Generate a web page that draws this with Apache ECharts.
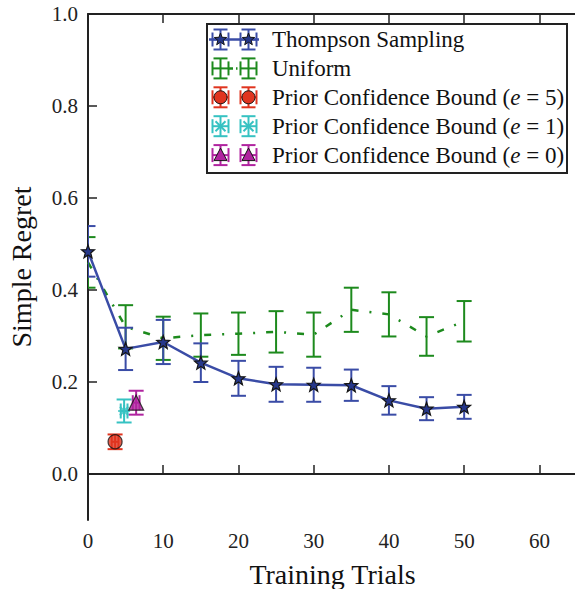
<!DOCTYPE html>
<html><head><meta charset="utf-8">
<script src="https://cdn.jsdelivr.net/npm/echarts@6/dist/echarts.min.js"></script>
<style>html,body{margin:0;padding:0;background:#fff}#c{width:575px;height:589px}</style>
</head><body><div id="c"></div>
<script>
// ---- data ----
const trials = [0, 5, 10, 15, 20, 25, 30, 35, 40, 45, 50];
const tsMean = [0.484, 0.272, 0.287, 0.242, 0.208, 0.195, 0.194, 0.193, 0.160, 0.142, 0.146];
const tsErr  = [0.055, 0.046, 0.048, 0.042, 0.038, 0.038, 0.037, 0.034, 0.031, 0.025, 0.026];
const uniMean = [0.460, 0.320, 0.295, 0.302, 0.305, 0.309, 0.303, 0.357, 0.347, 0.299, 0.332];
const uniErr  = [0.055, 0.047, 0.047, 0.047, 0.046, 0.045, 0.048, 0.048, 0.048, 0.042, 0.044];
const pcbNames = ['e = 5', 'e = 1', 'e = 0'];
const pcbX    = [3.6, 4.8, 6.4];
const pcbXErr = [0.45, 0.45, 0.45];
const pcbMean = [0.070, 0.137, 0.155];
const pcbErr  = [0.016, 0.025, 0.026];
const xTicks = [0, 10, 20, 30, 40, 50, 60];
const yTicks = [0, 0.2, 0.4, 0.6, 0.8, 1.0];
const legendLabels = ['Thompson Sampling', 'Uniform',
  'Prior Confidence Bound ({i|e} = 5)', 'Prior Confidence Bound ({i|e} = 1)', 'Prior Confidence Bound ({i|e} = 0)'];

// ---- styles ----
const C_BLUE = '#3a4ca6', C_STAR = '#26378a', C_GREEN = '#1d8a1d',
      C_RED = '#e0341f', C_CYAN = '#36c2c2', C_MAG = '#b0239f', C_EDGE = '#151515';
const FONT = 'Liberation Serif';

// star symbol geometry
function starPts(r) {
  const pts = [];
  for (let k = 0; k < 10; k++) {
    const a = -Math.PI / 2 + k * Math.PI / 5, rr = k % 2 ? r * 0.42 : r;
    pts.push([rr * Math.cos(a), rr * Math.sin(a)]);
  }
  return pts;
}
const starPath = 'path://M' + starPts(10).map(p => (p[0] + 10).toFixed(2) + ',' + (p[1] + 10).toFixed(2)).join('L') + 'Z';
const astPath = 'path://M10,0L10,20M0,10L20,10M3,3L17,17M3,17L17,3';

function makeErr(color, lw, cap) {
  return function (params, api) {
    const x = api.value(0), m = api.value(1), e = api.value(2), xe = api.value(3);
    const cs = params.coordSys, left = cs.x;
    const t = api.coord([x, m + e]), b = api.coord([x, m - e]);
    const st = { stroke: color, lineWidth: lw, fill: null };
    const ch = [
      { type: 'line', shape: { x1: t[0], y1: t[1], x2: b[0], y2: b[1] }, style: st },
      { type: 'line', shape: { x1: Math.max(left, t[0] - cap), y1: t[1], x2: t[0] + cap, y2: t[1] }, style: st },
      { type: 'line', shape: { x1: Math.max(left, b[0] - cap), y1: b[1], x2: b[0] + cap, y2: b[1] }, style: st }
    ];
    if (xe > 0) {
      const l = api.coord([x - xe, m]), r = api.coord([x + xe, m]);
      ch.push({ type: 'line', shape: { x1: l[0], y1: l[1], x2: r[0], y2: r[1] }, style: st });
      ch.push({ type: 'line', shape: { x1: l[0], y1: l[1] - cap, x2: l[0], y2: l[1] + cap }, style: st });
      ch.push({ type: 'line', shape: { x1: r[0], y1: r[1] - cap, x2: r[0], y2: r[1] + cap }, style: st });
    }
    return { type: 'group', children: ch };
  };
}

const tsErrData = trials.map((x, i) => [x, tsMean[i], tsErr[i], 0]);
const uniErrData = trials.map((x, i) => [x, uniMean[i], uniErr[i], 0]);
const pcbColors = [C_RED, C_CYAN, C_MAG];
const pcbSymbols = ['circle', astPath, 'triangle'];

const series = [
  { type: 'custom', name: 'UniformErr', renderItem: makeErr(C_GREEN, 2, 7.5), data: uniErrData, clip: true, z: 2, silent: true },
  { type: 'line', name: 'Uniform', data: trials.map((x, i) => [x, uniMean[i]]), symbol: 'none',
    lineStyle: { color: C_GREEN, width: 2.5, type: [7, 11, 2, 11] }, z: 2, clip: true },
  { type: 'custom', name: 'TSErr', renderItem: makeErr(C_BLUE, 2, 7.5), data: tsErrData, clip: true, z: 3, silent: true },
  { type: 'line', name: 'Thompson Sampling', data: trials.map((x, i) => [x, tsMean[i]]),
    symbol: starPath, symbolSize: 13, clip: true,
    itemStyle: { color: C_STAR, borderColor: C_EDGE, borderWidth: 1.2 },
    lineStyle: { color: C_BLUE, width: 2.5 }, z: 4 }
];
pcbNames.forEach((n, i) => {
  series.push({ type: 'custom', name: 'PCBErr ' + n, renderItem: makeErr(pcbColors[i], 2, 7.5),
    data: [[pcbX[i], pcbMean[i], pcbErr[i], pcbXErr[i]]], z: 5, silent: true });
  const isAst = i === 1;
  series.push({ type: 'scatter', name: 'Prior Confidence Bound (' + n + ')',
    data: [[pcbX[i], pcbMean[i]]], symbol: pcbSymbols[i], symbolSize: isAst ? 12 : (i === 2 ? 15 : 14),
    itemStyle: isAst ? { color: 'rgba(0,0,0,0)', borderColor: pcbColors[i], borderWidth: 2 }
                     : { color: pcbColors[i], borderColor: C_EDGE, borderWidth: 1.2 }, z: 6 });
});

// ---- legend (drawn as graphics) ----
const LX = 207, LY = 24, LW = 360, LH = 149, ROW0 = 39.5, ROWH = 28.9, IC1 = 220.5, IC2 = 248.5, TX = 272;
const lg = [{ type: 'rect', shape: { x: LX, y: LY, width: LW, height: LH },
  style: { fill: '#fff', stroke: '#222', lineWidth: 2 } }];
function errIcon(cx, cy, color) {
  const st = { stroke: color, lineWidth: 2 };
  return [
    { type: 'line', shape: { x1: cx, y1: cy - 10, x2: cx, y2: cy + 10 }, style: st },
    { type: 'line', shape: { x1: cx - 7, y1: cy - 10, x2: cx + 7, y2: cy - 10 }, style: st },
    { type: 'line', shape: { x1: cx - 7, y1: cy + 10, x2: cx + 7, y2: cy + 10 }, style: st },
    { type: 'line', shape: { x1: cx - 8, y1: cy, x2: cx + 8, y2: cy }, style: st },
    { type: 'line', shape: { x1: cx - 8, y1: cy - 7, x2: cx - 8, y2: cy + 7 }, style: st },
    { type: 'line', shape: { x1: cx + 8, y1: cy - 7, x2: cx + 8, y2: cy + 7 }, style: st }
  ];
}
function markerIcon(kind, cx, cy) {
  if (kind === 0) return [{ type: 'polygon', shape: { points: starPts(6.5).map(p => [p[0] + cx, p[1] + cy]) },
    style: { fill: C_STAR, stroke: C_EDGE, lineWidth: 1 } }];
  if (kind === 2) return [{ type: 'circle', shape: { cx: cx, cy: cy, r: 6.5 }, style: { fill: C_RED, stroke: C_EDGE, lineWidth: 1 } }];
  if (kind === 3) {
    const st = { stroke: C_CYAN, lineWidth: 2 };
    return [
      { type: 'line', shape: { x1: cx - 5, y1: cy - 5, x2: cx + 5, y2: cy + 5 }, style: st },
      { type: 'line', shape: { x1: cx - 5, y1: cy + 5, x2: cx + 5, y2: cy - 5 }, style: st }
    ];
  }
  if (kind === 4) return [{ type: 'polygon', shape: { points: [[cx, cy - 7], [cx + 6.5, cy + 5.5], [cx - 6.5, cy + 5.5]] },
    style: { fill: C_MAG, stroke: C_EDGE, lineWidth: 1 } }];
  return [];
}
const legendColors = [C_BLUE, C_GREEN, C_RED, C_CYAN, C_MAG];
legendLabels.forEach((lab, i) => {
  const cy = ROW0 + i * ROWH;
  if (i === 0) lg.push({ type: 'line', shape: { x1: 209, y1: cy, x2: 259, y2: cy }, style: { stroke: C_BLUE, lineWidth: 2.5 } });
  if (i === 1) lg.push({ type: 'line', shape: { x1: 229, y1: cy, x2: 240, y2: cy }, style: { stroke: C_GREEN, lineWidth: 2.5, lineDash: [4, 3, 1.5, 3] } });
  [IC1, IC2].forEach(cx => {
    errIcon(cx, cy, legendColors[i]).forEach(e => lg.push(e));
    markerIcon(i, cx, cy).forEach(e => lg.push(e));
  });
  lg.push({ type: 'text', x: TX, y: cy, style: { text: lab, fontFamily: FONT, fontSize: 23, fill: '#111',
    verticalAlign: 'middle', align: 'left', rich: { i: { fontFamily: FONT, fontStyle: 'italic', fontSize: 23, fill: '#111' } } } });
});

const axisLineStyle = { color: '#222', width: 2 };
const option = {
  animation: false,
  textStyle: { fontFamily: FONT },
  grid: { left: 88, right: -2, top: 14, bottom: 69, outerBoundsMode: 'none' },
  xAxis: [
    { type: 'value', min: 0, max: 65, position: 'bottom',
      name: 'Training Trials', nameLocation: 'middle', nameGap: 40,
      nameTextStyle: { fontFamily: FONT, fontSize: 28, color: '#111' },
      axisLine: { show: true, lineStyle: axisLineStyle },
      axisTick: { show: true, inside: true, length: 9, customValues: xTicks, lineStyle: { color: '#222', width: 1.5 } },
      axisLabel: { customValues: xTicks, fontFamily: FONT, fontSize: 21, color: '#222', margin: 10 },
      splitLine: { show: false } },
    { type: 'value', min: 0, max: 65, position: 'top',
      axisLine: { show: true, lineStyle: axisLineStyle },
      axisTick: { show: true, inside: true, length: 9, customValues: xTicks, lineStyle: { color: '#222', width: 1.5 } },
      axisLabel: { show: false }, splitLine: { show: false } }
  ],
  yAxis: { type: 'value', min: -0.1, max: 1.0,
    name: 'Simple Regret', nameLocation: 'middle', nameGap: 53, nameRotate: 90,
    nameTextStyle: { fontFamily: FONT, fontSize: 28, color: '#111' },
    axisLine: { show: true, lineStyle: axisLineStyle },
    axisTick: { show: true, inside: true, length: 9, customValues: yTicks, lineStyle: { color: '#222', width: 1.5 } },
    axisLabel: { customValues: yTicks, fontFamily: FONT, fontSize: 21, color: '#222', margin: 10,
      formatter: v => v.toFixed(1) },
    splitLine: { show: false } },
  series: series,
  graphic: [{ type: 'group', z: 100, children: lg }]
};
const chart = echarts.init(document.getElementById('c'), null, { renderer: 'svg' });
chart.setOption(option);
</script></body></html>
